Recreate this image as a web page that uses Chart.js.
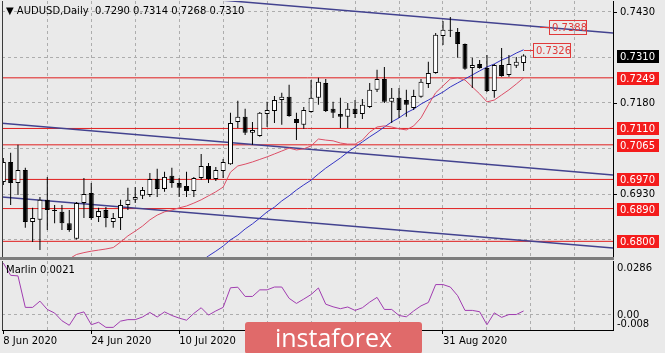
<!DOCTYPE html>
<html>
<head>
<meta charset="utf-8">
<title>AUDUSD Daily</title>
<script src="https://cdn.jsdelivr.net/npm/chart.js@4.4.1/dist/chart.umd.min.js"></script>
<style>
  html, body { margin: 0; padding: 0; background: #eaeaea; }
  #wrap { position: relative; width: 665px; height: 353px; overflow: hidden; background: #eaeaea; font-family: "DejaVu Sans", sans-serif; }
  #mainChart { position: absolute; left: 0; top: 0; }
  #subChart { position: absolute; left: 0; top: 258px; }
  #sep { position: absolute; left: 0; top: 257px; width: 614px; height: 3px; background: #7d7d7d; }
  #title { position: absolute; left: 6px; top: 5px; font-size: 10px; color: #000; white-space: pre; }
  #marlinTitle { position: absolute; left: 6px; top: 264px; font-size: 10px; color: #000; white-space: pre; }
  #brand { position: absolute; left: 245px; top: 322px; width: 177px; height: 32px; background: #e06a6a; border-radius: 3px; color: #fff; font: 25px "Open Sans", sans-serif; text-align: center; line-height: 30px; }
</style>
</head>
<body>
<div id="wrap">
  <canvas id="mainChart" width="665" height="258"></canvas>
  <canvas id="subChart" width="665" height="95"></canvas>
  <div id="sep"></div>
  <div id="title"></div>
  <div id="marlinTitle"></div>
  <div id="brand">instaforex</div>
</div>
<script>
// daily bars, 8 Jun 2020 .. 15 Sep 2020 (bar index 0..71)
const opens = [0.6963, 0.7018, 0.6960, 0.6996, 0.6853, 0.6859, 0.6914, 0.6886, 0.6881, 0.6850,
  0.6807, 0.6905, 0.6933, 0.6867, 0.6886, 0.6853, 0.6864, 0.6900, 0.6914, 0.6925,
  0.6927, 0.6971, 0.6944, 0.6980, 0.6960, 0.6952, 0.6938, 0.6974, 0.7007, 0.6971,
  0.6993, 0.7012, 0.7128, 0.7142, 0.7098, 0.7089, 0.7150, 0.7158, 0.7188, 0.7197,
  0.7136, 0.7120, 0.7155, 0.7194, 0.7235, 0.7164, 0.7150, 0.7142, 0.7164, 0.7150,
  0.7169, 0.7216, 0.7246, 0.7183, 0.7194, 0.7188, 0.7166, 0.7197, 0.7232, 0.7262,
  0.7364, 0.7381, 0.7375, 0.7342, 0.7276, 0.7287, 0.7276, 0.7213, 0.7284, 0.7257,
  0.7282, 0.7290];
const highs = [0.7029, 0.7043, 0.7065, 0.7002, 0.6892, 0.6922, 0.6977, 0.6900, 0.6900, 0.6886,
  0.6908, 0.6974, 0.6960, 0.6892, 0.6894, 0.6878, 0.6914, 0.6947, 0.6949, 0.6949,
  0.6988, 0.6999, 0.6991, 0.7002, 0.6974, 0.6991, 0.6977, 0.7040, 0.7015, 0.7004,
  0.7026, 0.7153, 0.7186, 0.7164, 0.7128, 0.7155, 0.7183, 0.7199, 0.7208, 0.7230,
  0.7153, 0.7169, 0.7243, 0.7249, 0.7246, 0.7183, 0.7194, 0.7180, 0.7188, 0.7191,
  0.7235, 0.7271, 0.7279, 0.7221, 0.7221, 0.7216, 0.7216, 0.7246, 0.7293, 0.7372,
  0.7405, 0.7416, 0.7386, 0.7343, 0.7304, 0.7298, 0.7312, 0.7287, 0.7331, 0.7312,
  0.7306, 0.7314];
const lows = [0.6955, 0.6900, 0.6927, 0.6837, 0.6798, 0.6776, 0.6831, 0.6850, 0.6831, 0.6826,
  0.6805, 0.6864, 0.6859, 0.6853, 0.6839, 0.6837, 0.6831, 0.6886, 0.6905, 0.6916,
  0.6922, 0.6922, 0.6936, 0.6947, 0.6922, 0.6922, 0.6922, 0.6969, 0.6960, 0.6966,
  0.6974, 0.7010, 0.7111, 0.7092, 0.7065, 0.7087, 0.7114, 0.7125, 0.7120, 0.7142,
  0.7078, 0.7109, 0.7153, 0.7175, 0.7155, 0.7139, 0.7111, 0.7111, 0.7139, 0.7136,
  0.7166, 0.7210, 0.7180, 0.7125, 0.7139, 0.7142, 0.7161, 0.7194, 0.7221, 0.7260,
  0.7339, 0.7361, 0.7304, 0.7271, 0.7221, 0.7274, 0.7210, 0.7194, 0.7252, 0.7252,
  0.7276, 0.7268];
const closes = [0.7018, 0.6960, 0.6996, 0.6853, 0.6864, 0.6914, 0.6886, 0.6883, 0.6850, 0.6831,
  0.6905, 0.6930, 0.6864, 0.6883, 0.6864, 0.6864, 0.6900, 0.6914, 0.6922, 0.6941,
  0.6971, 0.6944, 0.6977, 0.6960, 0.6947, 0.6938, 0.6974, 0.7007, 0.6971, 0.6996,
  0.7018, 0.7125, 0.7142, 0.7098, 0.7106, 0.7153, 0.7161, 0.7188, 0.7197, 0.7144,
  0.7125, 0.7161, 0.7194, 0.7238, 0.7158, 0.7153, 0.7142, 0.7164, 0.7150, 0.7175,
  0.7216, 0.7246, 0.7183, 0.7194, 0.7161, 0.7175, 0.7199, 0.7238, 0.7262, 0.7367,
  0.7381, 0.7378, 0.7342, 0.7274, 0.7284, 0.7276, 0.7213, 0.7284, 0.7254, 0.7287,
  0.7293, 0.7310];

// moving averages (red = fast, blue = slow)
const maRed = Array(9).fill(null).concat([0.6752, 0.6764, 0.6769, 0.6773, 0.6776, 0.6779, 0.6783,
  0.6798, 0.6815, 0.6828, 0.6842, 0.6859, 0.6872, 0.6881, 0.6886, 0.6892, 0.6897, 0.6905,
  0.6914, 0.6925, 0.6936, 0.6949, 0.6990, 0.7007, 0.7012, 0.7018, 0.7025, 0.7032, 0.7040,
  0.7048, 0.7056, 0.7051, 0.7054, 0.7062, 0.7081, 0.7078, 0.7076, 0.7070, 0.7067, 0.7067,
  0.7078, 0.7100, 0.7114, 0.7117, 0.7114, 0.7109, 0.7106, 0.7117, 0.7139, 0.7175, 0.7208,
  0.7227, 0.7246, 0.7249, 0.7243, 0.7224, 0.7205, 0.7183, 0.7188, 0.7202, 0.7216, 0.7232,
  0.7249]);
const maBlue = Array(27).fill(null).concat([0.6745, 0.6760, 0.6773, 0.6787, 0.6804, 0.6817,
  0.6834, 0.6848, 0.6864, 0.6881, 0.6894, 0.6911, 0.6925, 0.6941, 0.6955, 0.6968, 0.6985,
  0.7001, 0.7015, 0.7029, 0.7045, 0.7059, 0.7073, 0.7087, 0.7100, 0.7114, 0.7128, 0.7139,
  0.7153, 0.7163, 0.7177, 0.7188, 0.7199, 0.7210, 0.7224, 0.7235, 0.7246, 0.7257, 0.7268,
  0.7279, 0.7287, 0.7298, 0.7306, 0.7317, 0.7326]);

// Marlin oscillator
const marlin = [0.0275, 0.0210, 0.0207, 0.0040, 0.0040, 0.0073, 0.0029, 0.0010, -0.0031, -0.0055,
  0.0005, 0.0016, -0.0052, -0.0039, -0.0066, -0.0066, -0.0033, -0.0025, -0.0025, -0.0011,
  0.0013, -0.0011, 0.0016, -0.0003, -0.0017, -0.0028, 0.0008, 0.0038, -0.0001, 0.0021,
  0.0040, 0.0144, 0.0147, 0.0098, 0.0098, 0.0133, 0.0133, 0.0148, 0.0148, 0.0088,
  0.0061, 0.0084, 0.0108, 0.0143, 0.0057, 0.0043, 0.0033, 0.0042, 0.0024, 0.0038,
  0.0068, 0.0093, 0.0029, 0.0029, -0.0003, -0.0010, 0.0021, 0.0048, 0.0066, 0.0161,
  0.0161, 0.0148, 0.0102, 0.0024, 0.0024, 0.0017, -0.0052, 0.0011, -0.0013, 0.0002,
  0.0002, 0.0021];

// horizontal levels and trend lines (bar index, price)
const levelValues = [0.7249, 0.7110, 0.7065, 0.6970, 0.6890, 0.6800];
const trendUpperBars = [20, 83.2];
const trendUpperPrices = [0.7479, 0.7372];
const trendMidBars = [-0.45, 83.2];
const trendMidPrices = [0.7125, 0.6982];
const trendLowBars = [-0.45, 83.2];
const trendLowPrices = [0.6922, 0.6782];
const calloutBars = [73.2, 71];
const calloutPrices = [0.7388, 0.7326];

// axis texts
const priceGridTicks = [0.7430, 0.7305, 0.7180, 0.7055, 0.6930, 0.6805];
const priceTickLabels = [0.7430, 0.7180, 0.6930];
const dateLabels = ['8 Jun 2020', '24 Jun 2020', '10 Jul 2020', '31 Aug 2020'];
const dateLabelBars = [0, 12, 24, 60];
const marlinTicks = [0.0286, 0, -0.008];
const marlinTickLabels = ['0.0286', '0.00', '-0.008'];

const X_MIN = -0.18, X_MAX = 83.2;
const GRID = '#adadad';
const gridBars = [];
for (let b = 0; b <= 78; b += 6) gridBars.push(b);

Chart.defaults.font.family = '"DejaVu Sans", sans-serif';
Chart.defaults.font.size = 10;
Chart.defaults.color = '#000';

const last = closes.length - 1;
document.getElementById('title').textContent = '\u25BC AUDUSD,Daily  ' +
  [opens[last], highs[last], lows[last], closes[last]].map(v => v.toFixed(4)).join(' ');
document.getElementById('marlinTitle').textContent = 'Marlin ' + marlin[last].toFixed(4);

const xy = (arr) => arr.map((v, i) => ({ x: i, y: v }));
const seg = (bars, prices) => bars.map((b, k) => ({ x: b, y: prices[k] }));

const leftFrame = {
  id: 'leftFrame',
  afterDraw(chart) {
    const { ctx, chartArea } = chart;
    ctx.save();
    ctx.strokeStyle = '#3a3a3a';
    ctx.lineWidth = 1;
    ctx.beginPath();
    ctx.moveTo(Math.round(chartArea.left) + 0.5, chartArea.top);
    ctx.lineTo(Math.round(chartArea.left) + 0.5, chartArea.bottom);
    ctx.stroke();
    ctx.restore();
  }
};

const priceAxisLabels = {
  id: 'priceAxisLabels',
  afterDraw(chart) {
    const { ctx, chartArea, scales } = chart;
    const y = scales.y;
    const x0 = chartArea.right;
    ctx.save();
    ctx.font = '10px "DejaVu Sans"';
    ctx.textBaseline = 'middle';
    ctx.textAlign = 'left';
    ctx.lineWidth = 1;
    priceTickLabels.forEach(v => {
      const py = Math.round(y.getPixelForValue(v)) + 0.5;
      ctx.strokeStyle = '#000';
      ctx.beginPath(); ctx.moveTo(x0, py); ctx.lineTo(x0 + 4, py); ctx.stroke();
      ctx.fillStyle = '#000';
      ctx.fillText(v.toFixed(4), x0 + 7, py);
    });
    const box = (v, bg) => {
      const py = Math.round(y.getPixelForValue(v));
      ctx.fillStyle = bg;
      ctx.fillRect(x0 + 4, py - 6, 42, 13);
      ctx.fillStyle = '#fff';
      ctx.fillText(v.toFixed(4), x0 + 7, py + 1);
    };
    levelValues.forEach(v => box(v, '#f41c1c'));
    box(closes[last], '#000');
    ctx.restore();
  }
};

const callouts = {
  id: 'callouts',
  afterDatasetsDraw(chart) {
    const { ctx, scales: { x, y } } = chart;
    ctx.save();
    ctx.font = '10px "DejaVu Sans"';
    ctx.textBaseline = 'middle';
    ctx.lineWidth = 1;
    calloutBars.forEach((b, k) => {
      const px = Math.round(x.getPixelForValue(b));
      const py = Math.round(y.getPixelForValue(calloutPrices[k]));
      ctx.strokeStyle = '#e03a3a';
      ctx.beginPath(); ctx.moveTo(px, py + 0.5); ctx.lineTo(px + 9, py + 0.5); ctx.stroke();
      ctx.strokeRect(px + 9.5, py - 6.5, 37, 14);
      ctx.fillStyle = '#e03a3a';
      ctx.fillText(calloutPrices[k].toFixed(4), px + 12, py + 1);
    });
    ctx.restore();
  }
};

const marlinAxisLabels = {
  id: 'marlinAxisLabels',
  afterDraw(chart) {
    const { ctx, chartArea, scales: { y } } = chart;
    const shift = [7, 0, -6];
    ctx.save();
    ctx.font = '10px "DejaVu Sans"';
    ctx.fillStyle = '#000';
    ctx.textBaseline = 'middle';
    marlinTicks.forEach((v, k) => {
      const py = Math.round(y.getPixelForValue(v)) + shift[k];
      ctx.fillText(marlinTickLabels[k], chartArea.right + 4, py);
    });
    ctx.restore();
  }
};

const lineDs = (data, color, width, order) => ({
  type: 'line', data, borderColor: color, borderWidth: width,
  pointRadius: 0, tension: 0, spanGaps: false, order
});

const mainChart = new Chart(document.getElementById('mainChart'), {
  type: 'bar',
  data: {
    datasets: [
      ...levelValues.map(v => lineDs([{ x: X_MIN, y: v }, { x: X_MAX, y: v }], '#e01e1e', 1, 6)),
      lineDs(seg(trendUpperBars, trendUpperPrices), '#42428f', 1.5, 5),
      lineDs(seg(trendMidBars, trendMidPrices), '#42428f', 1.5, 5),
      lineDs(seg(trendLowBars, trendLowPrices), '#42428f', 1.5, 5),
      lineDs(xy(maRed), '#dc4e66', 1, 4),
      lineDs(xy(maBlue), '#3434c4', 1, 4),
      {
        type: 'bar', order: 2, grouped: false,
        data: lows.map((l, i) => ({ x: i, y: [l, highs[i]] })),
        backgroundColor: '#000', borderWidth: 0, barThickness: 1, inflateAmount: 0
      },
      {
        type: 'bar', order: 1, grouped: false,
        data: opens.map((o, i) => ({ x: i, y: [o, closes[i]] })),
        backgroundColor: opens.map((o, i) => closes[i] >= o ? '#ffffff' : '#000000'),
        borderColor: '#000', borderWidth: 1, borderSkipped: false,
        barThickness: 5, minBarLength: 1, inflateAmount: 0
      }
    ]
  },
  options: {
    responsive: false, animation: false, events: [],
    layout: { padding: { left: 2, top: 1, bottom: 1, right: 0 } },
    plugins: { legend: { display: false }, tooltip: { enabled: false } },
    scales: {
      x: {
        type: 'linear', min: X_MIN, max: X_MAX, offset: false,
        afterBuildTicks: s => { s.ticks = gridBars.map(v => ({ value: v })); },
        afterFit: s => { s.height = 0; },
        ticks: { display: false },
        grid: { color: c => (c.tick && c.tick.value > 0 ? GRID : 'transparent'), drawTicks: false, offset: false },
        border: { display: false, dash: [3, 3] }
      },
      y: {
        position: 'right', min: 0.6757, max: 0.7460,
        afterBuildTicks: s => { s.ticks = priceGridTicks.map(v => ({ value: v })); },
        afterFit: s => { s.width = 52; },
        ticks: { display: false },
        grid: { color: GRID, drawTicks: false },
        border: { display: true, color: '#000', dash: [3, 3] }
      }
    }
  },
  plugins: [callouts, priceAxisLabels, leftFrame]
});

const subChart = new Chart(document.getElementById('subChart'), {
  type: 'line',
  data: { datasets: [lineDs(xy(marlin), '#a03cb0', 1, 1)] },
  options: {
    responsive: false, animation: false, events: [],
    layout: { padding: { left: 2, top: 3, bottom: 0, right: 0 } },
    plugins: { legend: { display: false }, tooltip: { enabled: false } },
    scales: {
      x: {
        type: 'linear', min: X_MIN, max: X_MAX, offset: false,
        afterBuildTicks: s => { s.ticks = gridBars.map(v => ({ value: v })); },
        afterFit: s => { s.height = 23; },
        ticks: {
          autoSkip: false, maxRotation: 0, minRotation: 0, align: 'start', padding: 1, color: '#000',
          callback: v => { const k = dateLabelBars.indexOf(v); return k >= 0 ? dateLabels[k] : ''; }
        },
        grid: {
          color: c => (c.tick && c.tick.value > 0 ? GRID : 'transparent'),
          tickLength: 4, offset: false,
          tickColor: c => (c.tick && dateLabelBars.includes(c.tick.value) ? '#000' : 'transparent')
        },
        border: { display: true, color: '#000', dash: [3, 3] }
      },
      y: {
        position: 'right', min: -0.008, max: 0.0286,
        afterBuildTicks: s => { s.ticks = [{ value: 0 }]; },
        afterFit: s => { s.width = 52; },
        ticks: { display: false },
        grid: { color: GRID, drawTicks: false },
        border: { display: true, color: '#000', dash: [3, 3] }
      }
    }
  },
  plugins: [marlinAxisLabels, leftFrame]
});
</script>
</body>
</html>
